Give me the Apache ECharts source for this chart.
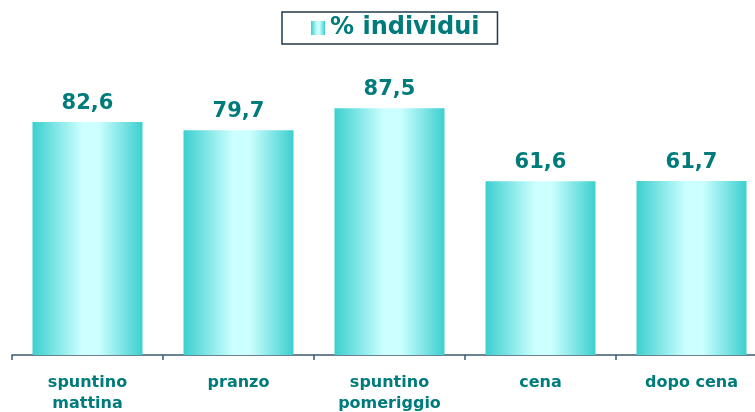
<!DOCTYPE html>
<html><head><meta charset="utf-8">
<script src="https://cdn.jsdelivr.net/npm/echarts@6/dist/echarts.min.js"></script>
<style>html,body{margin:0;padding:0;background:#fff}#c{width:755px;height:412px}</style>
</head><body><div id="c"></div>
<script>
const categories = ['spuntino\nmattina', 'pranzo', 'spuntino\npomeriggio', 'cena', 'dopo cena'];
const values = [82.6, 79.7, 87.5, 61.6, 61.7];
const seriesName = '% individui';

const teal = '#007B7B';
const grad = new echarts.graphic.LinearGradient(0, 0, 1, 0, [
  {offset: 0, color: '#3CCFCF'},
  {offset: 0.45, color: '#CCFFFF'},
  {offset: 0.6, color: '#CCFFFF'},
  {offset: 1, color: '#3CCFCF'}
]);
const chart = echarts.init(document.getElementById('c'));
chart.setOption({
  animation: false,
  legend: {
    top: 12, left: 282,
    data: [seriesName],
    icon: 'rect', itemWidth: 14, itemHeight: 14, itemGap: 9,
    borderColor: '#1F3A4D', borderWidth: 1.5, borderRadius: 0,
    padding: [4, 18, 4, 29],
    textStyle: {color: teal, fontSize: 24, fontWeight: 'bold', fontFamily: 'DejaVu Sans'}
  },
  grid: {left: 12, top: 73, width: 755, height: 282, containLabel: false, outerBoundsMode: 'none'},
  xAxis: {
    type: 'category', data: categories,
    axisLine: {lineStyle: {color: '#3B5A6E', width: 1.5}},
    axisTick: {show: true, length: 5, lineStyle: {color: '#3B5A6E', width: 1.5}},
    axisLabel: {color: teal, fontSize: 16, fontWeight: 'bold', fontFamily: 'DejaVu Sans', lineHeight: 21, margin: 17, interval: 0}
  },
  yAxis: {type: 'value', min: 0, max: 100, show: false, splitLine: {show: false}},
  series: [{
    name: seriesName, type: 'bar', data: values, barWidth: 110,
    itemStyle: {color: grad},
    label: {show: true, position: 'top', distance: 8, color: teal, fontSize: 21, fontWeight: 'bold', fontFamily: 'DejaVu Sans',
      formatter: p => String(p.value.toFixed(1)).replace('.', ',')}
  }]
});
</script></body></html>
